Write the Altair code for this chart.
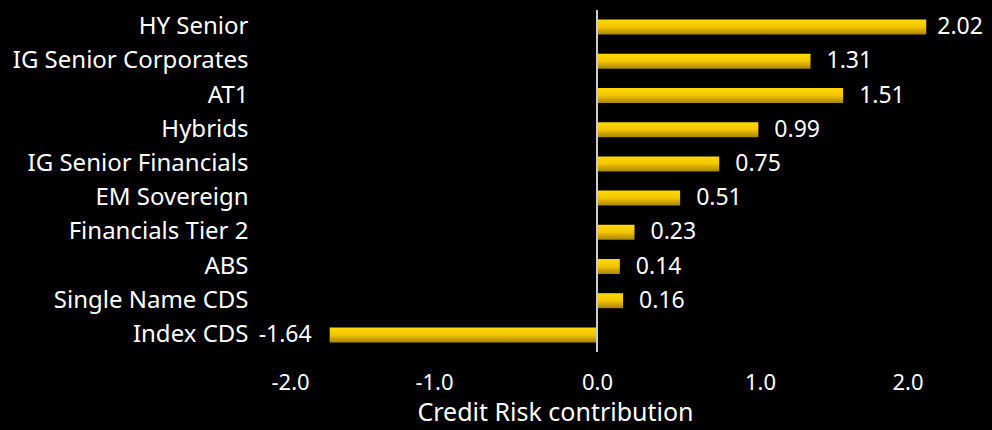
import altair as alt
import pandas as pd

categories = ["HY Senior", "IG Senior Corporates", "AT1", "Hybrids",
              "IG Senior Financials", "EM Sovereign", "Financials Tier 2",
              "ABS", "Single Name CDS", "Index CDS"]
values = [2.02, 1.31, 1.51, 0.99, 0.75, 0.51, 0.23, 0.14, 0.16, -1.64]
x_ticks = [-2.0, -1.0, 0.0, 1.0, 2.0]
x_title = "Credit Risk contribution"

df = pd.DataFrame({"category": categories, "value": values})

FONT = "Noto Sans"
WHITE = "#ffffff"

gold = alt.Gradient(
    gradient="linear",
    stops=[alt.GradientStop(color="#FFDA00", offset=0),
           alt.GradientStop(color="#F2C500", offset=0.5),
           alt.GradientStop(color="#A88400", offset=1)],
    x1=0, x2=0, y1=0, y2=1,
)

x_enc = alt.X(
    "value:Q",
    scale=alt.Scale(domain=[-2, 2], nice=False),
    axis=alt.Axis(
        values=x_ticks,
        labelExpr="datum.value < 0 ? '-' + format(-datum.value, '.1f') : format(datum.value, '.1f')",
        title=x_title, grid=False, ticks=False, domain=False,
        labelFont=FONT, labelFontSize=22, labelColor=WHITE, labelPadding=20,
        titleFont=FONT, titleFontSize=25, titleFontWeight="normal", titleColor=WHITE,
        titlePadding=7, titleX=284, titleAlign="center",
    ),
)
y_enc = alt.Y(
    "category:N", sort=categories,
    axis=alt.Axis(title=None, ticks=False, domain=False, grid=False, labelLimit=400,
                  labelFont=FONT, labelFontSize=24, labelColor=WHITE, labelPadding=23),
)

base = alt.Chart(df).encode(y=y_enc)

bars = base.mark_bar(size=15, color=gold).encode(x=x_enc)

labels = base.transform_calculate(
    label="datum.value < 0 ? '-' + format(-datum.value, '.2f') : format(datum.value, '.2f')"
)
pos_text = labels.transform_filter("datum.value >= 0 && datum.value < 2").mark_text(
    align="left", baseline="middle", dx=16, font=FONT, fontSize=23, color=WHITE
).encode(x=alt.X("value:Q"), text="label:N")
max_text = labels.transform_filter("datum.value >= 2").mark_text(
    align="left", baseline="middle", dx=11, font=FONT, fontSize=23, color=WHITE
).encode(x=alt.X("value:Q"), text="label:N")
neg_text = labels.transform_filter("datum.value < 0").mark_text(
    align="right", baseline="middle", dx=-18, font=FONT, fontSize=23, color=WHITE
).encode(x=alt.X("value:Q"), text="label:N")

zero = alt.Chart(df).mark_rule(color="#cccccc", strokeWidth=2).encode(x=alt.datum(0))

chart = alt.layer(bars, zero, pos_text, max_text, neg_text).properties(
    width=652, height=342,
    autosize=alt.AutoSizeParams(type="none"),
    padding={"left": 271, "top": 10, "right": 69, "bottom": 78},
).configure(background="black").configure_view(stroke=None)

chart.save("out.html", embed_options={"renderer": "svg", "actions": False})
